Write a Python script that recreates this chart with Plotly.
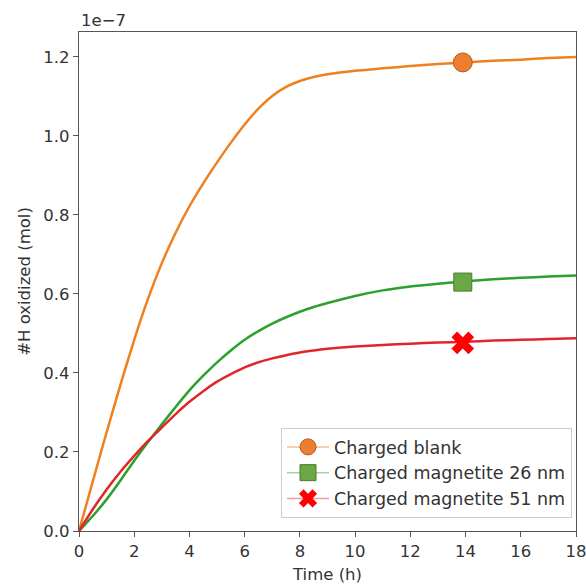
import plotly.graph_objects as go

# time axis (h)
time_h = [0, 0.5, 1, 1.5, 2, 2.5, 3, 3.5, 4, 4.5, 5, 5.5, 6, 6.5, 7, 7.5, 8, 8.5, 9,
          10, 11, 12, 13, 14, 15, 16, 17, 18]

# #H oxidized, in units of 1e-7 mol
blank = [0.0, 0.126, 0.250, 0.370, 0.484, 0.588, 0.678, 0.755, 0.822, 0.880, 0.933, 0.983,
         1.029, 1.069, 1.101, 1.124, 1.139, 1.149, 1.156,
         1.165, 1.171, 1.177, 1.182, 1.186, 1.19, 1.193, 1.197, 1.20]
mag26 = [0.0, 0.038, 0.08, 0.128, 0.178, 0.225, 0.27, 0.314, 0.356, 0.393, 0.427, 0.457,
         0.484, 0.506, 0.525, 0.541, 0.555, 0.567, 0.577,
         0.595, 0.609, 0.619, 0.626, 0.632, 0.637, 0.641, 0.644, 0.647]
mag51 = [0.0, 0.055, 0.105, 0.15, 0.19, 0.228, 0.262, 0.296, 0.327, 0.354, 0.378, 0.397,
         0.414, 0.427, 0.437, 0.445, 0.452, 0.457, 0.461,
         0.467, 0.471, 0.474, 0.477, 0.479, 0.482, 0.484, 0.486, 0.488]

# highlighted points
mark_t = 13.9
mark_blank = 1.186
mark_26 = 0.630
mark_51 = 0.476

labels = ["Charged blank", "Charged magnetite 26 nm", "Charged magnetite 51 nm"]

y_ticks = [0.0, 0.2, 0.4, 0.6, 0.8, 1.0, 1.2]
x_ticks = [0, 2, 4, 6, 8, 10, 12, 14, 16, 18]

c_orange = "#f07f1e"
c_green = "#2ca02c"
c_red = "#e0262a"

FS = 16.5

fig = go.Figure()

for ys, col in [(blank, c_orange), (mag26, c_green), (mag51, c_red)]:
    fig.add_trace(go.Scatter(x=time_h, y=ys, mode="lines",
                             line=dict(color=col, width=2.5, shape="spline", smoothing=0.5),
                             showlegend=False, hoverinfo="skip"))

fig.add_trace(go.Scatter(x=[mark_t], y=[mark_blank], mode="lines+markers", name=labels[0],
                         line=dict(color="rgba(240,127,30,0.5)", width=1.5),
                         marker=dict(symbol="circle", size=19, color="#ed7d31",
                                     line=dict(color="#b65a1c", width=1))))
fig.add_trace(go.Scatter(x=[mark_t], y=[mark_26], mode="lines+markers", name=labels[1],
                         line=dict(color="rgba(44,160,44,0.45)", width=1.5),
                         marker=dict(symbol="square", size=18, color="#6aa845",
                                     line=dict(color="#4a7a2e", width=1))))
fig.add_trace(go.Scatter(x=[mark_t], y=[mark_51], mode="lines+markers", name=labels[2],
                         line=dict(color="rgba(224,38,42,0.45)", width=1.5),
                         marker=dict(symbol="x", size=20, color="#ff0000",
                                     line=dict(color="#ff0000", width=0))))

axis_common = dict(showline=True, linecolor="#555", linewidth=1.3, mirror=True,
                   ticks="outside", ticklen=5, tickcolor="#555", showgrid=False,
                   zeroline=False, automargin=False, ticklabeloverflow="allow",
                   tickfont=dict(size=FS, color="#333"))

fig.update_layout(
    width=586, height=585,
    margin=dict(l=79, r=10, t=32, b=54),
    paper_bgcolor="white", plot_bgcolor="white",
    font=dict(family="DejaVu Sans", size=FS, color="#333"),
    xaxis=dict(range=[0, 18], tickvals=x_ticks,
               title=dict(text="Time (h)", font=dict(size=FS), standoff=8), **axis_common),
    yaxis=dict(range=[0, 1.263], tickvals=y_ticks, tickformat=".1f",
               title=dict(text="#H oxidized (mol)", font=dict(size=FS), standoff=8), **axis_common),
    legend=dict(x=0.992, y=0.026, xanchor="right", yanchor="bottom",
                bgcolor="rgba(255,255,255,0.9)", bordercolor="#ccc", borderwidth=1,
                font=dict(size=17.5, color="#333"), itemwidth=42, tracegroupgap=0),
    annotations=[dict(text="1e\u22127", xref="paper", yref="paper", x=0, y=1.0,
                      xanchor="left", yanchor="bottom", showarrow=False,
                      font=dict(size=FS, color="#333"), yshift=0)],
)

fig.write_html("out.html")
